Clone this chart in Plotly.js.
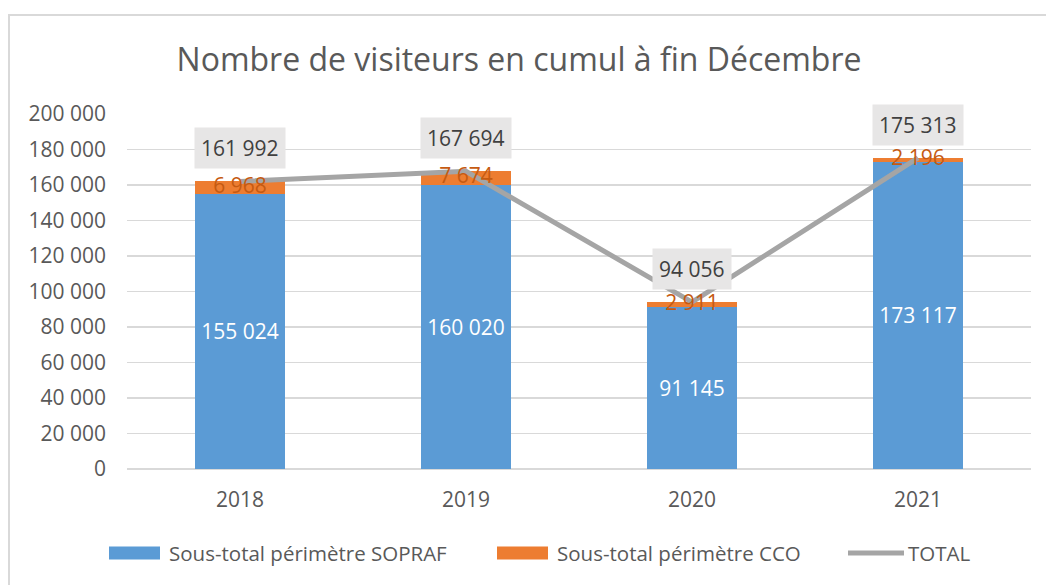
<!DOCTYPE html>
<html>
<head>
<meta charset="utf-8">
<script src="https://cdn.plot.ly/plotly-3.0.1.min.js"></script>
<style>
html,body{margin:0;padding:0;background:#fff;}
#chart{width:1046px;height:585px;}
</style>
</head>
<body>
<div id="chart"></div>
<script>
const years = ['2018', '2019', '2020', '2021'];
const sopraf = [155024, 160020, 91145, 173117];
const cco = [6968, 7674, 2911, 2196];
const total = [161992, 167694, 94056, 175313];
const seriesNames = ['Sous-total périmètre SOPRAF', 'Sous-total périmètre CCO', 'TOTAL'];
const yTicks = [0, 20000, 40000, 60000, 80000, 100000, 120000, 140000, 160000, 180000, 200000];

const FONT = '"Open Sans", Lato, sans-serif';
const W = 1046, H = 585;
const L = 127, R = 1031, T = 114, B = 469;
const px = x => (x - L) / (R - L);
const py = y => (B - y) / (B - T);
const fmt = n => String(n).replace(/\B(?=(\d{3})+(?!\d))/g, ' ');

const blue = '#5B9BD5', orange = '#ED7D31', grey = '#A5A5A5';

const traces = [
  {
    type: 'bar', x: years, y: sopraf, name: seriesNames[0],
    marker: {color: blue},
    text: sopraf.map(fmt), textposition: 'inside', insidetextanchor: 'middle',
    textfont: {family: FONT, size: 21, color: '#FFFFFF'},
    constraintext: 'none', showlegend: false, hoverinfo: 'skip'
  },
  {
    type: 'bar', x: years, y: cco, name: seriesNames[1],
    marker: {color: orange}, showlegend: false, hoverinfo: 'skip'
  },
  {
    type: 'scatter', mode: 'lines', x: years, y: total, name: seriesNames[2],
    line: {color: grey, width: 5}, showlegend: false, hoverinfo: 'skip'
  },
  {
    type: 'scatter', mode: 'text', x: years,
    y: sopraf.map((v, i) => v + cco[i] / 2),
    text: cco.map(fmt), textposition: 'middle center',
    textfont: {family: FONT, size: 21, color: '#C55A11'},
    showlegend: false, hoverinfo: 'skip'
  }
];

const annotations = total.map((v, i) => ({
  x: i, y: v, xref: 'x', yref: 'y',
  text: fmt(v), showarrow: false, yshift: 33,
  xanchor: 'center', yanchor: 'middle',
  bgcolor: '#E7E6E6', borderpad: 6,
  font: {family: FONT, size: 21, color: '#404040'}
}));

// custom legend
const legendItems = [
  {x0: 109, x1: 160, tx: 167, kind: 'rect', color: blue, label: seriesNames[0]},
  {x0: 497, x1: 548, tx: 555, kind: 'rect', color: orange, label: seriesNames[1]},
  {x0: 848, x1: 904, tx: 906, kind: 'line', color: grey, label: seriesNames[2]}
];
const legY = 553;
const shapes = [];
legendItems.forEach(it => {
  if (it.kind === 'rect') {
    shapes.push({type: 'rect', xref: 'paper', yref: 'paper',
      x0: px(it.x0), x1: px(it.x1), y0: py(legY + 6.5), y1: py(legY - 6.5),
      fillcolor: it.color, line: {width: 0}});
  } else {
    shapes.push({type: 'line', xref: 'paper', yref: 'paper',
      x0: px(it.x0), x1: px(it.x1), y0: py(legY), y1: py(legY),
      line: {color: it.color, width: 5}});
  }
  annotations.push({xref: 'paper', yref: 'paper', x: px(it.tx), y: py(legY),
    xanchor: 'left', yanchor: 'middle', showarrow: false, text: it.label,
    font: {family: FONT, size: 20.5, color: '#595959'}});
});
// chart border (left & top)
shapes.push({type: 'path', xref: 'paper', yref: 'paper',
  path: `M ${px(9)} ${py(590)} L ${px(9)} ${py(15)} L ${px(1050)} ${py(15)}`,
  line: {color: '#D9D9D9', width: 2}});

const layout = {
  width: W, height: H,
  margin: {l: L, r: W - R, t: T, b: H - B, pad: 0},
  paper_bgcolor: '#FFFFFF', plot_bgcolor: '#FFFFFF',
  barmode: 'stack', bargap: 0.6,
  showlegend: false,
  hovermode: false,
  font: {family: FONT, color: '#595959'},
  title: {
    text: 'Nombre de visiteurs en cumul à fin Décembre',
    font: {family: FONT, size: 32, color: '#595959'},
    x: 519 / W, xref: 'container', xanchor: 'center',
    y: 1 - 60 / H, yref: 'container', yanchor: 'middle'
  },
  xaxis: {
    type: 'category', range: [-0.5, years.length - 0.5], autorange: false,
    showgrid: false, showline: false, zeroline: false,
    ticks: '', tickfont: {family: FONT, size: 21, color: '#595959'},
    ticklabelstandoff: 16
  },
  yaxis: {
    range: [0, 200000], autorange: false, tickvals: yTicks, ticktext: yTicks.map(fmt),
    showgrid: true, gridcolor: '#D9D9D9', gridwidth: 1.5,
    zeroline: true, zerolinecolor: '#D9D9D9', zerolinewidth: 1.5,
    showline: false, ticks: '',
    tickfont: {family: FONT, size: 21, color: '#595959'},
    ticklabelstandoff: 20
  },
  annotations: annotations,
  shapes: shapes
};

Plotly.newPlot('chart', traces, layout, {displayModeBar: false, staticPlot: true});
</script>
</body>
</html>
